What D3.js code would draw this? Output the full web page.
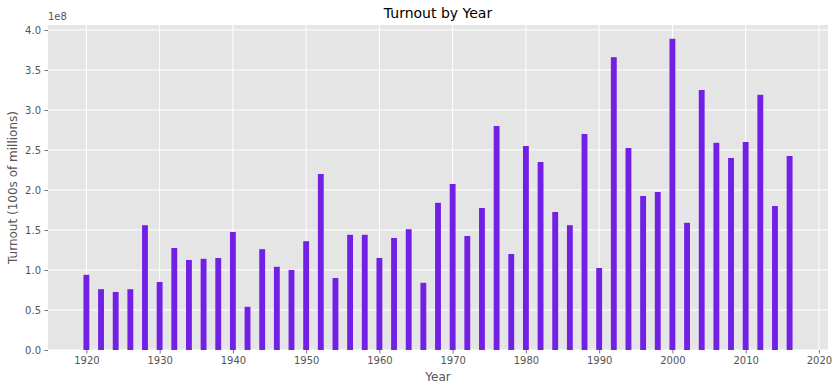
<!DOCTYPE html>
<html>
<head>
<meta charset="utf-8">
<script src="https://cdn.jsdelivr.net/npm/d3@7"></script>
<style>
  html, body { margin: 0; padding: 0; background: #fff; }
  svg { display: block; font-family: "DejaVu Sans", sans-serif; }
</style>
</head>
<body>
<svg id="chart" width="839" height="391"></svg>
<script>
const years = [1920,1922,1924,1926,1928,1930,1932,1934,1936,1938,1940,1942,1944,1946,1948,1950,
  1952,1954,1956,1958,1960,1962,1964,1966,1968,1970,1972,1974,1976,1978,1980,1982,1984,1986,
  1988,1990,1992,1994,1996,1998,2000,2002,2004,2006,2008,2010,2012,2014,2016];
// turnout in units of 1e8 (hundreds of millions)
const turnout = [0.94,0.76,0.725,0.76,1.56,0.85,1.275,1.125,1.14,1.15,1.475,0.54,1.26,1.04,1.0,1.36,
  2.2,0.9,1.44,1.44,1.15,1.4,1.51,0.84,1.84,2.075,1.425,1.775,2.8,1.2,2.55,2.35,1.725,1.56,
  2.7,1.025,3.66,2.525,1.925,1.975,3.89,1.59,3.25,2.59,2.4,2.6,3.19,1.8,2.425];
const yTicks = [0,0.5,1.0,1.5,2.0,2.5,3.0,3.5,4.0];
const xTicks = [1920,1930,1940,1950,1960,1970,1980,1990,2000,2010,2020];

const svg = d3.select("#chart");
const L = 48, R = 828, T = 25, B = 350;
const barW = 0.8;
const x = d3.scaleLinear().domain([1914.76, 2021.24]).range([L, R]);
const y = d3.scaleLinear().domain([0, 4.0625]).range([B, T]);

svg.append("rect").attr("x", L).attr("y", T).attr("width", R - L).attr("height", B - T).attr("fill", "#E5E5E5");

// grid
const g = svg.append("g");
g.selectAll(".gx").data(xTicks).enter().append("line")
  .attr("x1", d => x(d)).attr("x2", d => x(d)).attr("y1", T).attr("y2", B)
  .attr("stroke", "#fff").attr("stroke-width", 1);
g.selectAll(".gy").data(yTicks).enter().append("line")
  .attr("x1", L).attr("x2", R).attr("y1", d => y(d)).attr("y2", d => y(d))
  .attr("stroke", "#fff").attr("stroke-width", 1);

// bars
svg.append("g").selectAll("rect").data(years).enter().append("rect")
  .attr("x", (d) => x(d - barW / 2))
  .attr("width", (d) => x(d + barW / 2) - x(d - barW / 2))
  .attr("y", (d, i) => y(turnout[i]))
  .attr("height", (d, i) => B - y(turnout[i]))
  .attr("fill", "#7220E6");

// axes
const xAxis = d3.axisBottom(x).tickValues(xTicks).tickFormat(d3.format("d")).tickSize(3.5).tickPadding(3.5);
const yAxis = d3.axisLeft(y).tickValues(yTicks).tickFormat(d3.format(".1f")).tickSize(3.5).tickPadding(3.5);
const gx = svg.append("g").attr("transform", `translate(0,${B})`).call(xAxis);
const gy = svg.append("g").attr("transform", `translate(${L},0)`).call(yAxis);
[gx, gy].forEach(a => {
  a.select(".domain").remove();
  a.selectAll(".tick line").attr("stroke", "#555").attr("stroke-width", 0.8);
  a.selectAll(".tick text").attr("fill", "#555").style("font-size", "10px").style("font-family", "DejaVu Sans");
});

svg.append("text").attr("x", L).attr("y", 20).text("1e8")
  .attr("fill", "#555").style("font-size", "10px");

svg.append("text").attr("x", (L + R) / 2).attr("y", 18).attr("text-anchor", "middle")
  .text("Turnout by Year").attr("fill", "#000").style("font-size", "14px");

svg.append("text").attr("x", (L + R) / 2).attr("y", 381).attr("text-anchor", "middle")
  .text("Year").attr("fill", "#555").style("font-size", "12px");

svg.append("text").attr("transform", `translate(17,${(T + B) / 2}) rotate(-90)`).attr("text-anchor", "middle")
  .text("Turnout (100s of millions)").attr("fill", "#555").style("font-size", "12px");
</script>
</body>
</html>
